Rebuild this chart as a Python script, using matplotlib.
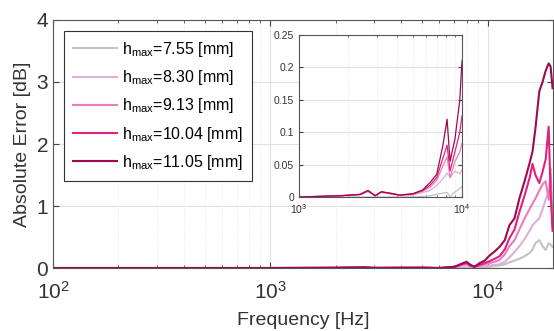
import numpy as np
import matplotlib.pyplot as plt
from matplotlib.ticker import LogLocator, NullFormatter

plt.rcParams['font.family'] = ['Liberation Sans', 'DejaVu Sans']
plt.rcParams['mathtext.fontset'] = 'custom'
plt.rcParams['mathtext.rm'] = 'Liberation Sans'

# main plot data (Hz / dB)
freq = [100, 200, 500, 1000, 2000, 2700, 3000, 4000, 5000, 6000,
        7050, 7600, 8000, 8350, 8700, 9200, 9700, 10200, 10800, 11350,
        12000, 12600, 13300, 14000, 14800, 15600, 16100, 16600, 17300,
        17900, 18500, 19100, 19500, 19900]

err_755 = [0, 0, 0, 0, 0, 0, 0, 0, 0, 0,
           0, 0.01, 0.01, 0, 0, 0, 0.01, 0.02, 0.03, 0.04,
           0.06, 0.09, 0.12, 0.15, 0.19, 0.24, 0.30, 0.40, 0.45,
           0.35, 0.29, 0.40, 0.38, 0.34]
err_830 = [0, 0, 0, 0, 0.002, 0.008, 0.002, 0.003, 0.003, 0,
           0, 0.03, 0.04, 0.02, 0.01, 0.02, 0.03, 0.04, 0.05, 0.06,
           0.10, 0.17, 0.26, 0.35, 0.47, 0.60, 0.69, 0.74, 0.80,
           0.95, 1.10, 1.23, 1.12, 0.95]
err_913 = [0, 0, 0, 0, 0.003, 0.009, 0.002, 0.004, 0.004, 0,
           0.01, 0.05, 0.07, 0.03, 0.02, 0.04, 0.06, 0.08, 0.10, 0.13,
           0.22, 0.35, 0.45, 0.62, 0.80, 0.95, 1.04, 1.12, 1.25,
           1.35, 1.40, 1.10, 1.60, 0.70]
err_1004 = [0, 0, 0, 0, 0.004, 0.010, 0.002, 0.004, 0.005, 0,
            0.02, 0.06, 0.08, 0.04, 0.02, 0.05, 0.08, 0.11, 0.15, 0.19,
            0.30, 0.48, 0.62, 0.90, 1.17, 1.45, 1.68, 1.50, 1.37,
            1.55, 1.75, 2.28, 1.20, 0.60]
err_1105 = [0, 0, 0, 0, 0.004, 0.010, 0.002, 0.004, 0.005, 0,
            0.02, 0.07, 0.10, 0.05, 0.02, 0.08, 0.12, 0.20, 0.27, 0.34,
            0.45, 0.69, 0.80, 1.12, 1.40, 1.69, 1.88, 2.25, 2.85,
            3.00, 3.18, 3.30, 3.25, 2.90]

# inset data (zoom 1 kHz - 10 kHz)
freq_in = [1000, 1350, 1800, 2370, 2650, 2930, 3200, 3600, 4150, 5000,
           5750, 6350, 7000, 7640, 8100, 8450, 9060, 9700, 10000]
in_755 = [0, 0, 0, 0, 0, 0, 0, 0, 0, 0,
          0.001, 0.002, 0.004, 0.006, 0.007, 0.001, 0.008, 0.013, 0.016]
in_830 = [0, 0.001, 0.002, 0.003, 0.008, 0.002, 0.007, 0.005, 0.002, 0.003,
          0.007, 0.010, 0.018, 0.028, 0.037, 0.030, 0.040, 0.036, 0.042]
in_913 = [0, 0.001, 0.002, 0.004, 0.009, 0.002, 0.008, 0.005, 0.003, 0.004,
          0.009, 0.015, 0.026, 0.048, 0.062, 0.030, 0.055, 0.070, 0.083]
in_1004 = [0, 0.001, 0.002, 0.004, 0.010, 0.002, 0.008, 0.006, 0.003, 0.005,
           0.010, 0.018, 0.030, 0.060, 0.080, 0.040, 0.070, 0.100, 0.125]
in_1105 = [0, 0.001, 0.002, 0.004, 0.010, 0.002, 0.008, 0.006, 0.003, 0.005,
           0.011, 0.022, 0.035, 0.080, 0.120, 0.055, 0.090, 0.150, 0.210]

labels = ['7.55', '8.30', '9.13', '10.04', '11.05']
colors = ['#c3c3c3', '#dcafdc', '#ec7cbc', '#e0227e', '#9e0a52']


def style_axes(ax, fs):
    ax.set_xscale('log')
    ax.grid(True, which='major', color='#e2e2e2', lw=0.8)
    ax.grid(True, which='minor', axis='x', color='#e2e2e2', lw=0.6, ls=':')
    ax.tick_params(which='both', direction='in', top=True, right=True,
                   labelsize=fs, colors='#444444', labelcolor='#333333')
    ax.tick_params(which='major', length=4)
    ax.tick_params(which='minor', length=2)
    for s in ax.spines.values():
        s.set_color('#555555')
        s.set_linewidth(0.8)
    ax.set_axisbelow(True)


def main():
    fig = plt.figure(figsize=(5.54, 3.31), dpi=100)
    ax = fig.add_axes([0.0957, 0.1903, 0.9025, 0.7493])

    main_data = [err_755, err_830, err_913, err_1004, err_1105]
    for lab, c, d in zip(labels, colors, main_data):
        ax.plot(freq, d, color=c, lw=1.5,
                label=r'h$_{\mathrm{max}}$=' + lab + ' [mm]')

    style_axes(ax, 15)
    ax.tick_params(axis='x', which='major', pad=9)
    ax.set_xlim(100, 20000)
    ax.set_ylim(0, 4)
    ax.set_yticks([0, 1, 2, 3, 4])
    ax.xaxis.set_minor_locator(LogLocator(base=10, subs=np.arange(2, 10)))
    ax.xaxis.set_minor_formatter(NullFormatter())
    ax.set_xlabel('Frequency [Hz]', fontsize=14, color='#333333', labelpad=7)
    ax.set_ylabel('Absolute Error [dB]', fontsize=14, color='#333333', labelpad=4)

    leg = ax.legend(loc='upper left', bbox_to_anchor=(0.1155, 0.906),
                    bbox_transform=fig.transFigure, borderaxespad=0,
                    fontsize=11.5, handlelength=2.8, handletextpad=0.3,
                    labelspacing=0.58, borderpad=0.55, fancybox=False,
                    framealpha=1)
    leg.get_frame().set_edgecolor('#333333')
    leg.get_frame().set_linewidth(0.8)

    # inset
    ax2 = fig.add_axes([0.5397, 0.4048, 0.2942, 0.4895])
    in_data = [in_755, in_830, in_913, in_1004, in_1105]
    for c, d in zip(colors, in_data):
        ax2.plot(freq_in, d, color=c, lw=0.9)
    style_axes(ax2, 7.5)
    ax2.set_xlim(1000, 10000)
    ax2.set_ylim(0, 0.25)
    ax2.set_yticks([0, 0.05, 0.1, 0.15, 0.2, 0.25])
    ax2.set_yticklabels(['0', '0.05', '0.1', '0.15', '0.2', '0.25'])
    ax2.xaxis.set_minor_locator(LogLocator(base=10, subs=np.arange(2, 10)))
    ax2.xaxis.set_minor_formatter(NullFormatter())
    ax2.tick_params(which='major', length=3)
    ax2.tick_params(which='minor', length=1.5)

    fig.savefig('out.png', dpi=100)


if __name__ == "__main__":
    main()
